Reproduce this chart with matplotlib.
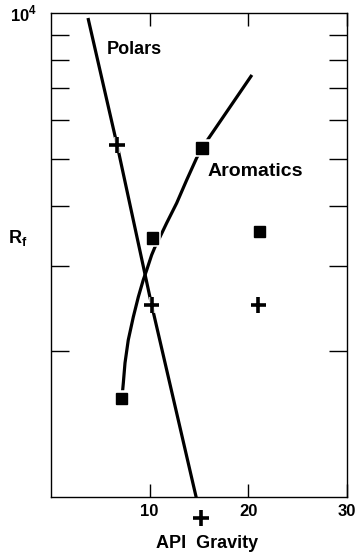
import matplotlib
matplotlib.use("Agg")

import matplotlib.pyplot as plt
import matplotlib.patheffects as pe

plt.rcParams["font.family"] = ["Liberation Sans", "DejaVu Sans"]
plt.rcParams["font.weight"] = "bold"

# Polars: straight line and + points
polars_line_x = [3.75, 6.7, 10.2, 15.2]
polars_line_y = [9765, 5336, 2493, 905]
polars_pts_x = [6.7, 10.2, 15.2, 21.0]
polars_pts_y = [5336, 2493, 905, 2493]

# Aromatics: curve read along the drawn line, and square points
arom_curve_x = [7.19, 7.33, 7.50, 7.83, 8.34, 8.85, 9.35, 9.70, 10.20, 10.54,
                11.04, 11.72, 12.74, 13.75, 14.76, 15.30, 20.36]
arom_curve_y = [1601, 1720, 1892, 2110, 2354, 2590, 2808, 2944, 3162, 3285,
                3443, 3681, 4049, 4517, 5017, 5260, 7447]
arom_pts_x = [7.19, 10.3, 15.3, 21.1]
arom_pts_y = [1601, 3428, 5260, 3530]

W, H = 356, 555
fig = plt.figure(figsize=(W / 100, H / 100), dpi=100)
ax = fig.add_axes([51 / W, (H - 497) / H, 296 / W, 484 / H])

ax.set_yscale("log")
ax.set_xlim(0, 30)
ax.set_ylim(1000, 10000)

# curves
ax.plot(polars_line_x, polars_line_y, color="black", lw=2.3, solid_capstyle="butt")
ax.plot(arom_curve_x, arom_curve_y, color="black", lw=2.3, solid_capstyle="butt",
        solid_joinstyle="round")

# markers with a small white halo so the lines look broken at the points
halo = [pe.withStroke(linewidth=4, foreground="white")]
ax.plot(polars_pts_x, polars_pts_y, ls="none", marker="+", ms=11, mew=2.6,
        color="black", clip_on=False, path_effects=halo, zorder=5)
ax.plot(arom_pts_x, arom_pts_y, ls="none", marker="s", ms=8, color="black",
        clip_on=False, path_effects=halo, zorder=5)

ax.text(5.7, 8400, "Polars", fontsize=13, fontweight="bold", va="center", ha="left")
ax.text(15.9, 4695, "Aromatics", fontsize=14, fontweight="bold", va="center", ha="left")

# ticks
ax.set_xticks([10, 20, 30])
ax.set_xticklabels(["10", "20", "30"])
ax.set_yticks([10000])
ax.set_yticklabels([r"10$^\mathregular{4}$"])
ax.set_yticks([2000, 3000, 4000, 5000, 6000, 7000, 8000, 9000], minor=True)
ax.set_yticklabels([], minor=True)
ax.xaxis.set_minor_locator(matplotlib.ticker.NullLocator())

ax.tick_params(axis="x", which="major", direction="in", length=9.5, width=1,
               top=True, bottom=True, labelsize=12, pad=5)
ax.tick_params(axis="y", which="major", direction="in", length=0,
               left=True, right=True, labelsize=12, pad=10)
ax.tick_params(axis="y", which="minor", direction="in", length=13, width=1,
               left=True, right=True)
for lab in ax.get_xticklabels() + ax.get_yticklabels():
    lab.set_fontweight("bold")

for s in ax.spines.values():
    s.set_linewidth(1.0)

fig.text(8 / W, 1 - 238 / H, r"R$_\mathregular{f}$", fontsize=13, fontweight="bold",
         ha="left", va="center")
fig.text(207 / W, 1 - 543 / H, "API  Gravity", fontsize=13, fontweight="bold",
         ha="center", va="center")

fig.savefig("out.png", dpi=100)
